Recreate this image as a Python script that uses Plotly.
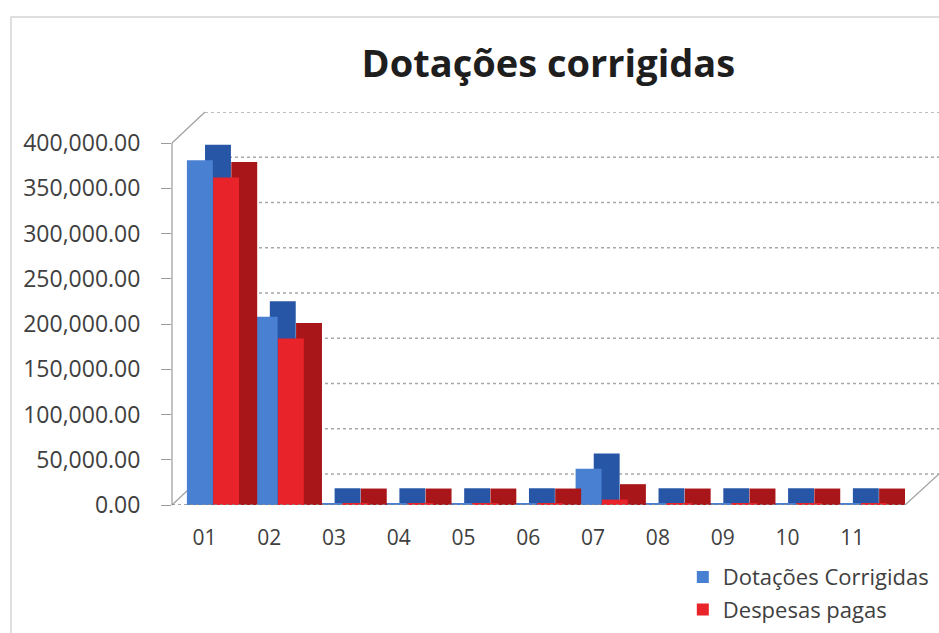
import plotly.graph_objects as go

categories = ["01", "02", "03", "04", "05", "06", "07", "08", "09", "10", "11"]
dotacoes = [381000, 208000, 1500, 1500, 1500, 1500, 40000, 1500, 1500, 1500, 1500]
despesas = [362000, 184000, 1200, 1200, 1200, 1200, 6000, 1200, 1200, 1200, 1200]
y_ticks = [0, 50000, 100000, 150000, 200000, 250000, 300000, 350000, 400000]

DEPTH_Y = 17000
DEPTH_X = 0.28
W = 0.40
OFF_BLUE = -0.27
OFF_RED = 0.135
GRID_SHIFT = 34250
FONT = "Open Sans"
GREY = "#404040"

fig = go.Figure()

def add_series(name, vals, off, front, side):
    fig.add_trace(go.Bar(
        x=categories, y=[v + DEPTH_Y for v in vals], base=0,
        offset=off + DEPTH_X, width=W,
        marker=dict(color=side, line=dict(width=0)),
        showlegend=False, hoverinfo="skip", legendgroup=name))
    fig.add_trace(go.Bar(
        x=categories, y=vals, name=name, legendgroup=name,
        offset=off, width=W,
        marker=dict(color=front, line=dict(width=0))))

add_series("Dotações Corrigidas", dotacoes, OFF_BLUE, "#4a80d2", "#2756a6")
add_series("Despesas pagas", despesas, OFF_RED, "#e8232a", "#a8161a")

shapes = []
# back-wall gridlines
for t in y_ticks:
    shapes.append(dict(type="line", xref="paper", yref="y", x0=0.043, x1=1.0,
                       y0=t + GRID_SHIFT, y1=t + GRID_SHIFT, layer="below",
                       line=dict(color="#a8a8a8", width=1.3, dash="dot")))
# floor front line
shapes.append(dict(type="line", xref="paper", yref="y", x0=0, x1=0.9557, y0=0, y1=0,
                   layer="above", line=dict(color="#8a8a8a", width=1.5, dash="dot")))
# wall edges
edge = dict(color="#a0a0a0", width=1.2)
shapes.append(dict(type="line", xref="paper", yref="paper", x0=0, y0=0.9211, x1=0.043, y1=1.0, line=edge, layer="below"))
shapes.append(dict(type="line", xref="paper", yref="paper", x0=0, y0=0.0, x1=0.043, y1=0.0789, line=edge, layer="below"))
shapes.append(dict(type="line", xref="paper", yref="paper", x0=0.9557, y0=0.0, x1=1.0, y1=0.0789, line=edge, layer="below"))
shapes.append(dict(type="line", xref="paper", yref="paper", x0=0, y0=0, x1=0, y1=0.9211,
                   line=dict(color="#9a9a9a", width=1.2), layer="below"))
# outer frame
shapes.append(dict(type="rect", xref="paper", yref="paper", x0=-0.2099, x1=1.2, y0=-0.7, y1=1.2417,
                   line=dict(color="#d4d4d4", width=1.5), layer="below"))

fig.update_layout(
    width=939, height=633,
    margin=dict(l=172, r=0, t=112, b=128),
    paper_bgcolor="white", plot_bgcolor="white",
    barmode="overlay",
    title=dict(text="<b>Dotações corrigidas</b>", x=0.584, xanchor="center",
               y=0.900, yanchor="middle",
               font=dict(family=FONT, size=38, color="#1e1e1e")),
    xaxis=dict(domain=[0, 0.9557], showgrid=False, showline=False, ticks="",
               ticklabelstandoff=18,
               tickfont=dict(family=FONT, size=21, color=GREY), fixedrange=True),
    yaxis=dict(range=[0, 434250], tickvals=y_ticks, tickformat=",.2f",
               showgrid=False, zeroline=False, showline=False,
               ticks="outside", ticklen=10, tickcolor="#9a9a9a",
               ticklabelstandoff=16, fixedrange=True,
               tickfont=dict(family=FONT, size=23, color=GREY)),
    legend=dict(x=0.666, xanchor="left", y=-0.13, yanchor="top",
                font=dict(family=FONT, size=22, color=GREY),
                bgcolor="rgba(0,0,0,0)", tracegroupgap=1, itemwidth=30),
    shapes=shapes,
)

fig.write_html("out.html", config={"displayModeBar": False},
               post_script="document.body.style.margin='0';")
